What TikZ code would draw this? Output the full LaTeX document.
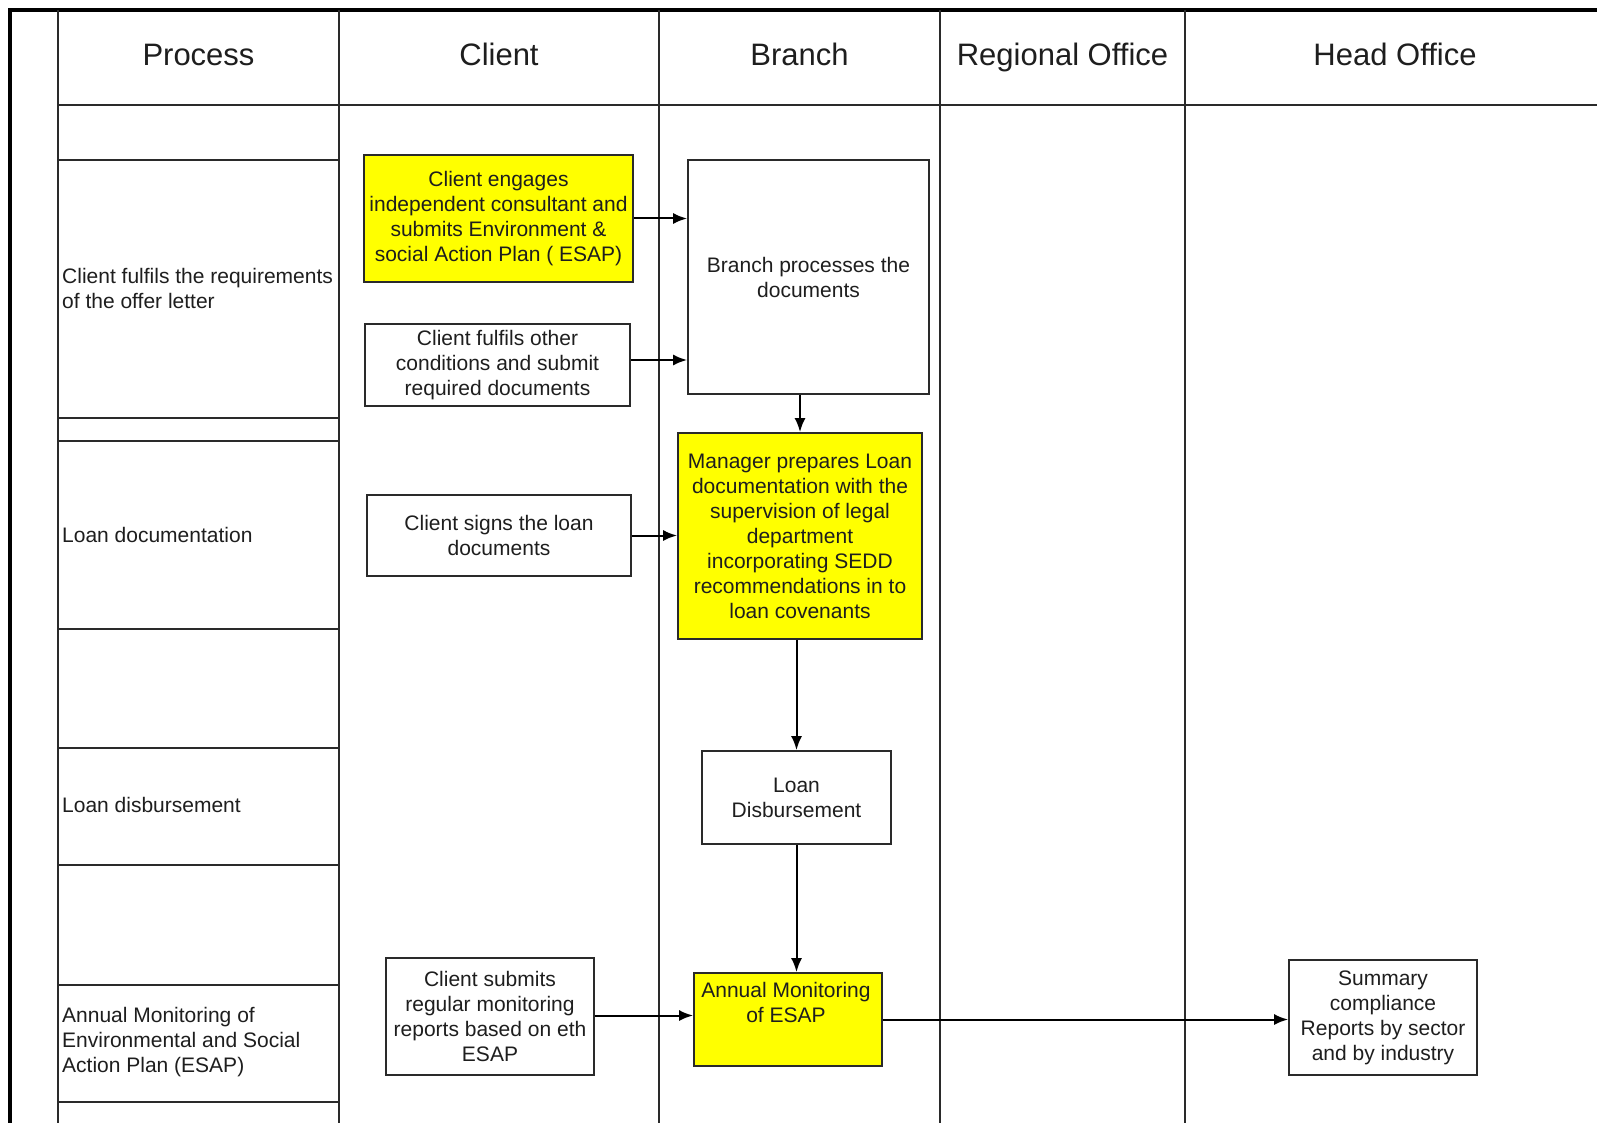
\documentclass[tikz,border=0pt]{standalone}
\usepackage{fontspec}
\setmainfont{Liberation Sans}
\usetikzlibrary{arrows.meta,calc}
\definecolor{ink}{HTML}{1E1E1E}
\definecolor{gridc}{HTML}{2A2A2A}
\definecolor{boxyellow}{HTML}{FFFF00}
\tikzset{
  gridline/.style={draw=gridc,line width=1.8pt},
  frameline/.style={draw=black,line width=3.8pt},
  hdr/.style={text=ink,font=\fontsize{31}{36}\selectfont,inner sep=0pt,text height=22pt,text depth=6pt},
  plabel/.style={text=ink,font=\fontsize{21}{25}\selectfont,anchor=west,align=left,inner sep=0pt},
  procbox/.style={draw=gridc,line width=1.8pt,text=ink,font=\fontsize{21}{25}\selectfont,align=center,inner sep=0pt},
  yellowbox/.style={procbox,fill=boxyellow},
  flow/.style={draw=black,line width=2pt,-{Latex[length=14pt,width=11pt]}}
}
\begin{document}
\begin{tikzpicture}[x=1pt,y=-1pt]
\useasboundingbox[fill=white] (0,0) rectangle (1597,1123);

% frame
\draw[frameline] (10,1123) -- (10,10) -- (1597,10);
% columns
\foreach \cx in {58,339,659,940,1185}{\draw[gridline] (\cx,10) -- (\cx,1123);}
% header bottom
\draw[gridline] (58,105) -- (1597,105);
% process rows
\foreach \ry in {160,418,441,629,748,865,985,1102}{\draw[gridline] (58,\ry) -- (339,\ry);}

% headers
\node[hdr] (hproc) at (198.5,58) {Process};
\node[hdr] (hcli) at (499,58) {Client};
\node[hdr] (hbr) at (799.5,58) {Branch};
\node[hdr] (hreg) at (1062.5,58) {Regional Office};
\node[hdr] (hhead) at (1395,58) {Head Office};

% process labels
\node[plabel] (p1) at (62,288) {Client fulfils the requirements\\of the offer letter};
\node[plabel] (p2) at (62,535) {Loan documentation};
\node[plabel] (p3) at (62,805) {Loan disbursement};
\node[plabel] (p4) at (62,1042) {Annual Monitoring of\\Environmental and Social\\Action Plan (ESAP)};

% boxes
\node[yellowbox,minimum width=269pt,minimum height=127pt] (esap) at (498.5,218.5)
  {Client engages\\independent consultant and\\submits Environment \&\\social Action Plan ( ESAP)};
\node[procbox,minimum width=265pt,minimum height=82pt] (other) at (497.5,365)
  {Client fulfils other\\conditions and submit\\required documents};
\node[procbox,minimum width=241pt,minimum height=234pt] (branch) at (808.5,277)
  {Branch processes the\\documents};
\node[procbox,minimum width=264pt,minimum height=81pt] (signs) at (499,535.5)
  {Client signs the loan\\documents};
\node[yellowbox,minimum width=244pt,minimum height=206pt] (manager) at (800,536)
  {Manager prepares Loan\\documentation with the\\supervision of legal\\department\\incorporating SEDD\\recommendations in to\\loan covenants};
\node[procbox,minimum width=189pt,minimum height=93pt] (disb) at (796.5,797.5)
  {Loan\\Disbursement};
\node[procbox,minimum width=208pt,minimum height=117pt] (submits) at (490,1016.5)
  {Client submits\\regular monitoring\\reports based on eth\\ESAP};
\node[yellowbox,minimum width=188pt,minimum height=93pt] (annual) at (788,1019.5) {};
\node[text=ink,font=\fontsize{21}{25}\selectfont,align=center,inner sep=0pt,anchor=north] (annualtxt) at (786,982)
  {Annual Monitoring\\of ESAP};
\node[procbox,minimum width=188pt,minimum height=115pt] (summary) at (1383,1017.5)
  {Summary\\compliance\\Reports by sector\\and by industry};

% connectors
\draw[flow] (esap.east) -- (esap.east -| branch.west);
\draw[flow] ([yshift=5pt]other.east) -- ([yshift=5pt]other.east -| branch.west);
\draw[flow] (manager.north |- branch.south) -- (manager.north);
\draw[flow] (signs.east) -- (signs.east -| manager.west);
\draw[flow] (disb.north |- manager.south) -- (disb.north);
\draw[flow] (disb.south) -- (disb.south |- annual.north);
\draw[flow] ([yshift=1pt]submits.east) -- ([yshift=1pt]submits.east -| annual.west);
\draw[flow] (annual.east) -- (annual.east -| summary.west);
\end{tikzpicture}
\end{document}
